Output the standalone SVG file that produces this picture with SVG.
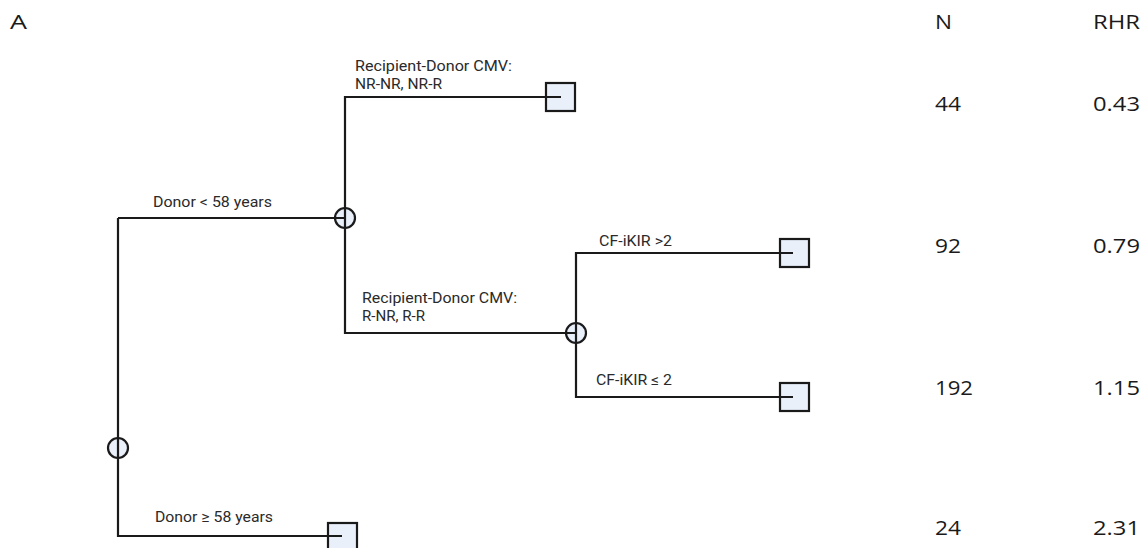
<svg xmlns="http://www.w3.org/2000/svg" width="1147" height="548" viewBox="0 0 1147 548">
<style>
.bg{fill:#ffffff}
.node{fill:#e9f0fa;stroke:#1a1a1a;stroke-width:2.2}
.edge{fill:none;stroke:#1a1a1a;stroke-width:2.2}
.lbl{font-family:Roboto,"Liberation Sans",sans-serif;font-size:15px;fill:#2a2a2a}
.col{font-family:"Open Sans","Noto Sans",sans-serif;font-size:20px;fill:#1a1a1a}
</style>
<rect class="bg" x="0" y="0" width="1147" height="548"/>
<text class="col" x="10" y="29" font-size="22" textLength="17" lengthAdjust="spacingAndGlyphs">A</text>
<g id="headers">
<text class="col" x="935" y="29" textLength="17" lengthAdjust="spacingAndGlyphs">N</text>
<text class="col" x="1093" y="29" textLength="47" lengthAdjust="spacingAndGlyphs">RHR</text>
</g>
<g id="root"><circle class="node" cx="118" cy="448" r="10"/></g>
<g id="n_young"><circle class="node" cx="345" cy="218" r="10"/></g>
<g id="n_cmvR"><circle class="node" cx="576" cy="333" r="10"/></g>
<g id="leaf1">
<rect class="node" x="546" y="83" width="29" height="28"/>
<text class="col" x="935" y="111" textLength="26" lengthAdjust="spacingAndGlyphs">44</text>
<text class="col" x="1093" y="111" textLength="47" lengthAdjust="spacingAndGlyphs">0.43</text>
</g>
<g id="leaf2">
<rect class="node" x="780" y="239" width="29" height="28"/>
<text class="col" x="935" y="253" textLength="26" lengthAdjust="spacingAndGlyphs">92</text>
<text class="col" x="1093" y="253" textLength="47" lengthAdjust="spacingAndGlyphs">0.79</text>
</g>
<g id="leaf3">
<rect class="node" x="780" y="383" width="29" height="28"/>
<text class="col" x="935" y="395" textLength="38" lengthAdjust="spacingAndGlyphs">192</text>
<text class="col" x="1093" y="395" textLength="47" lengthAdjust="spacingAndGlyphs">1.15</text>
</g>
<g id="leaf4">
<rect class="node" x="328" y="523" width="29" height="30"/>
<text class="col" x="935" y="535" textLength="26" lengthAdjust="spacingAndGlyphs">24</text>
<text class="col" x="1093" y="535" textLength="47" lengthAdjust="spacingAndGlyphs">2.31</text>
</g>
<g id="connectors">
<path class="edge" d="M118,218 V536 H342"/>
<path class="edge" d="M118,218 H345"/>
<path class="edge" d="M561,97 H345 V333 H576"/>
<path class="edge" d="M793,253 H576 V397 H793"/>
<text class="lbl" x="153" y="207" textLength="119" lengthAdjust="spacingAndGlyphs">Donor &lt; 58 years</text>
<text class="lbl" x="155" y="522" textLength="118" lengthAdjust="spacingAndGlyphs">Donor ≥ 58 years</text>
<text class="lbl" x="355" y="71" textLength="157" lengthAdjust="spacingAndGlyphs">Recipient-Donor CMV:</text>
<text class="lbl" x="355" y="89" textLength="87" lengthAdjust="spacingAndGlyphs">NR-NR, NR-R</text>
<text class="lbl" x="362" y="303" textLength="155" lengthAdjust="spacingAndGlyphs">Recipient-Donor CMV:</text>
<text class="lbl" x="362" y="321" textLength="63" lengthAdjust="spacingAndGlyphs">R-NR, R-R</text>
<text class="lbl" x="599" y="246" textLength="73" lengthAdjust="spacingAndGlyphs">CF-iKIR &gt;2</text>
<text class="lbl" x="596" y="385" textLength="76" lengthAdjust="spacingAndGlyphs">CF-iKIR ≤ 2</text>
</g>
</svg>
